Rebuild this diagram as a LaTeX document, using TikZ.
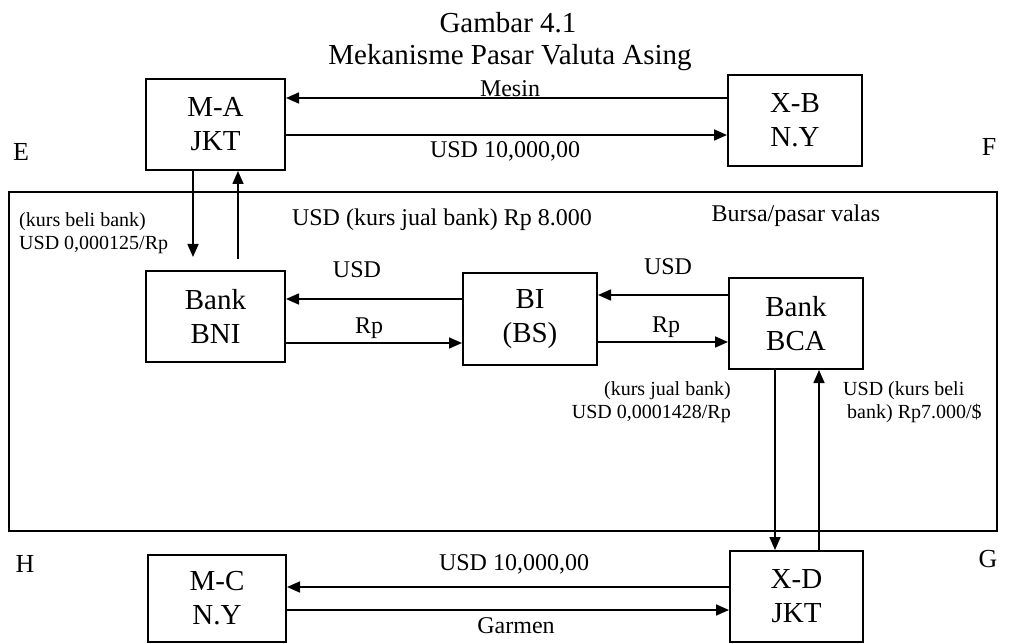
\documentclass[tikz,border=0pt]{standalone}
\usepackage{fontspec}
\setmainfont{Liberation Serif}
\usetikzlibrary{arrows.meta,positioning}
\tikzset{
  basebox/.style={rectangle,draw=black,line width=2pt,inner sep=0pt,align=center,font=\fontsize{29}{34}\selectfont},
  partybox/.style={basebox,minimum width=136pt,minimum height=91pt},
  arr/.style={-{Triangle[length=13pt,width=11pt]},line width=1.6pt},
  titlelbl/.style={font=\fontsize{29}{34}\selectfont,anchor=base,inner sep=0pt},
  lbl/.style={font=\fontsize{24}{28}\selectfont,anchor=base,inner sep=0pt},
  smalllbl/.style={font=\fontsize{20}{23}\selectfont,inner sep=0pt},
  cornerlbl/.style={font=\fontsize{26}{30}\selectfont,anchor=base,inner sep=0pt},
  marketframe/.style={draw=black,line width=2pt}
}

\begin{document}
\begin{tikzpicture}[x=1pt,y=-1pt]
  \useasboundingbox (0,0) rectangle (1014,644);

  \node[titlelbl] (title1) at (508,33) {Gambar 4.1};
  \node[titlelbl] (title2) at (510,65) {Mekanisme Pasar Valuta Asing};

  \draw[marketframe] (9,192) rectangle (997,531);

  \node[partybox,minimum width=139pt] (ma) at (215.5,124.5) {M-A\\JKT};
  \node[partybox,minimum width=134pt] (xb) at (795,120.5) {X-B\\N.Y};
  \node[partybox,minimum width=139pt] (bni) at (215.5,316.5) {Bank\\BNI};
  \node[partybox,minimum width=134pt,minimum height=92pt] (bi) at (530,319) {BI\\(BS)};
  \node[partybox,minimum width=134pt] (bca) at (796,323.5) {Bank\\BCA};
  \node[partybox,minimum width=138pt,minimum height=87pt] (mc) at (217,598.5) {M-C\\N.Y};
  \node[partybox,minimum width=133pt] (xd) at (796.5,596.5) {X-D\\JKT};

  % top trade
  \coordinate (mesinR) at ([yshift=26.5pt]ma.east);
  \coordinate (usdR) at ([yshift=-10.5pt]ma.east);
  \draw[arr] (xb.west |- mesinR) -- (mesinR);
  \draw[arr] (usdR) -- (xb.west |- usdR);

  \draw[arr] ([xshift=-22.5pt]ma.south) -- ([xshift=-22.5pt,yshift=13pt]bni.north);
  \draw[arr] ([xshift=22.5pt,yshift=11pt]bni.north) -- ([xshift=22.5pt]ma.south);

  % banks
  \coordinate (usdL) at ([yshift=17.5pt]bni.east);
  \coordinate (rpL) at ([yshift=-26.5pt]bni.east);
  \draw[arr] (bi.west |- usdL) -- (usdL);
  \draw[arr] (rpL) -- (bi.west |- rpL);
  \coordinate (usdM) at ([yshift=24pt]bi.east);
  \coordinate (rpM) at ([yshift=-23pt]bi.east);
  \draw[arr] (bca.west |- usdM) -- (usdM);
  \draw[arr] (rpM) -- (bca.west |- rpM);

  \draw[arr] ([xshift=-21pt]bca.south) -- ([xshift=-21.5pt]xd.north);
  \draw[arr] ([xshift=22.5pt]xd.north) -- ([xshift=23pt]bca.south);

  % bottom trade
  \coordinate (usdB) at ([yshift=11.5pt]mc.east);
  \coordinate (garB) at ([yshift=-11.5pt]mc.east);
  \draw[arr] (xd.west |- usdB) -- (usdB);
  \draw[arr] (garB) -- (xd.west |- garB);

  \node[lbl] (mesin) at (510,97) {Mesin};
  \node[lbl] (usdtop) at (505,158) {USD 10,000,00};
  \node[cornerlbl] (e) at (21,161) {E};
  \node[cornerlbl] (f) at (989,156) {F};
  \node[cornerlbl] (h) at (25,572) {H};
  \node[cornerlbl] (g) at (988,567) {G};

  \node[smalllbl,align=left,anchor=base west] (beli) at (19,250) {(kurs beli bank)\\USD 0,000125/Rp};
  \node[lbl] (jualrate) at (442,226) {USD (kurs jual bank) Rp 8.000};
  \node[lbl] (bursa) at (796,222) {Bursa/pasar valas};
  \node[lbl] (usd1) at (357,277) {USD};
  \node[lbl] (rp1) at (369,333) {Rp};
  \node[lbl] (usd2) at (668,275) {USD};
  \node[lbl] (rp2) at (666,332) {Rp};
  \node[smalllbl,align=right,anchor=base east] (jualbca) at (731,418) {(kurs jual bank)\\USD 0,0001428/Rp};
  \node[smalllbl,align=left,anchor=base west] (belibca) at (843,418) {USD (kurs beli\\\hspace*{4pt}bank) Rp7.000/\$};

  \node[lbl] (usdbot) at (514,570) {USD 10,000,00};
  \node[lbl] (garmen) at (516,633) {Garmen};
\end{tikzpicture}
\end{document}
